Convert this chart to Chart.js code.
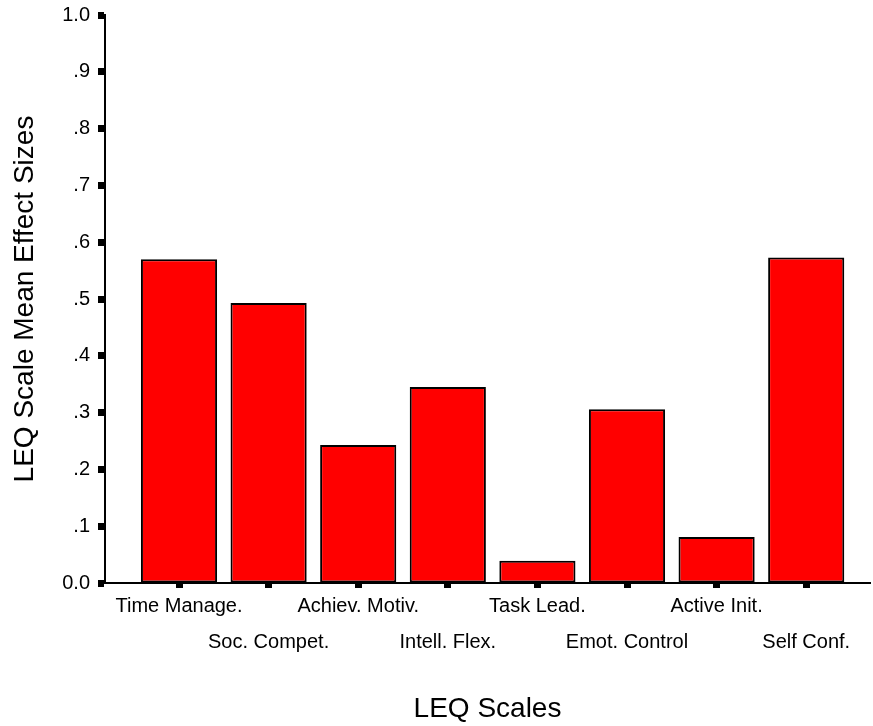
<!DOCTYPE html>
<html>
<head>
<meta charset="utf-8">
<script src="https://cdn.jsdelivr.net/npm/chart.js@4"></script>
<style>
  body { margin: 0; background: #fff; }
  canvas { display: block; }
</style>
</head>
<body>
<canvas id="leq-chart" width="873" height="726"></canvas>
<script>
const categories = ["Time Manage.", "Soc. Compet.", "Achiev. Motiv.", "Intell. Flex.",
  "Task Lead.", "Emot. Control", "Active Init.", "Self Conf."];
const effectSizes = [0.570, 0.493, 0.243, 0.345, 0.039, 0.306, 0.081, 0.573];
const yTickLabels = ["0.0", ".1", ".2", ".3", ".4", ".5", ".6", ".7", ".8", ".9", "1.0"];

const font = "'Liberation Sans', Arial, sans-serif";

const cnv = "leq-chart";
new Chart(cnv, {
  type: "bar",
  data: {
    datasets: [
      {
        label: "LEQ Scale Mean Effect Sizes",
        data: effectSizes.map((v, i) => ({ x: i, y: v })),
        backgroundColor: "#ff0000",
        borderColor: "#000",
        borderWidth: 2,
        borderSkipped: false,
        categoryPercentage: 1,
        barPercentage: 0.85
      }
    ]
  },
  options: {
    responsive: false,
    animation: false,
    layout: { padding: { left: 0, right: 3, top: 15, bottom: 0 } },
    plugins: { legend: { display: false }, tooltip: { enabled: false } },
    scales: {
      x: {
        type: "linear",
        offset: false,
        min: -0.826,
        max: 7.712,
        afterBuildTicks: scale => {
          scale.ticks = categories.map((c, i) => ({ value: i }));
        },
        afterFit: scale => {
          scale.height = 143;
          scale.paddingLeft = 0;
          scale.paddingRight = 0;
        },
        grid: {
          offset: false,
          drawOnChartArea: false,
          tickLength: 5,
          tickWidth: 7,
          tickColor: "#000"
        },
        border: { color: "#000", width: 2 },
        ticks: {
          padding: 0,
          maxRotation: 0,
          autoSkip: false,
          color: "#000",
          font: { family: font, size: 20, lineHeight: 1.8 },
          callback: value => value % 2 === 0 ? [categories[value], ""] : ["", categories[value]]
        },
        title: {
          display: true,
          text: "LEQ Scales",
          color: "#000",
          font: { family: font, size: 28 },
          padding: { top: 0, bottom: 0 }
        }
      },
      y: {
        min: 0,
        max: 1,
        afterFit: scale => {
          scale.width = 105;
          scale.paddingTop = 0;
          scale.paddingBottom = 0;
        },
        grid: {
          drawOnChartArea: false,
          tickLength: 7,
          tickWidth: 7,
          tickColor: "#000"
        },
        border: { color: "#000", width: 2 },
        ticks: {
          stepSize: 0.1,
          padding: 8,
          color: "#000",
          font: { family: font, size: 20 },
          callback: (value, index) => yTickLabels[index]
        },
        title: {
          display: true,
          text: "LEQ Scale Mean Effect Sizes",
          color: "#000",
          font: { family: font, size: 28 },
          padding: { top: 8, bottom: 0 }
        }
      }
    }
  }
});
</script>
</body>
</html>
